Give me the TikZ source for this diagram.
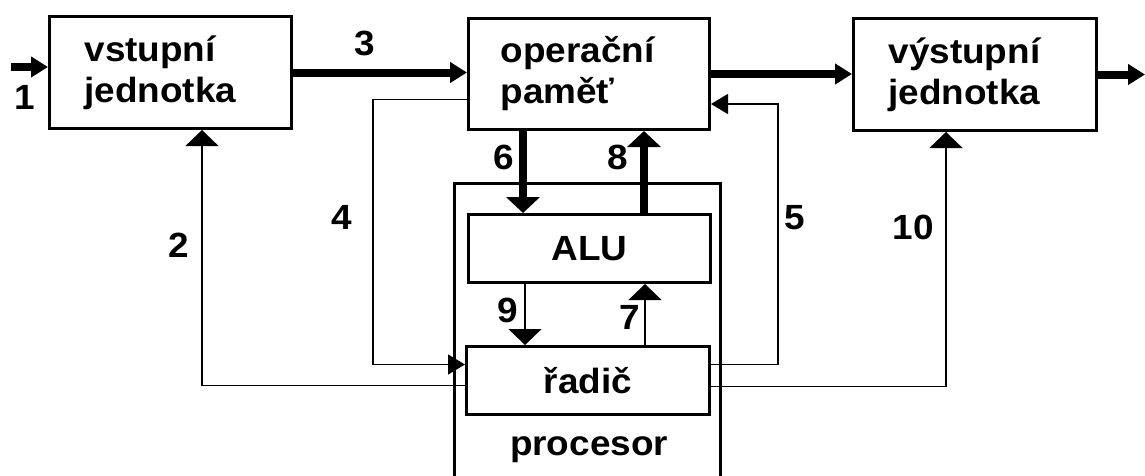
\documentclass[tikz,border=0pt]{standalone}
\usepackage{fontspec}
\setmainfont{Liberation Sans}[FakeStretch=1.055]
\usetikzlibrary{arrows.meta,calc}
\begin{document}
\begin{tikzpicture}[x=1pt,y=-1pt,
  font=\bfseries\fontsize{35}{41}\selectfont,
  blk/.style={draw, line width=3pt, anchor=north west, inner sep=0pt},
  bus/.style={line width=8pt},
  ctl/.style={line width=1.3pt},
  vtip/.tip={Triangle[width=33pt,length=16pt]},
  htip/.tip={Triangle[width=20pt,length=17pt]},
  num/.style={inner sep=0pt}]
\useasboundingbox (0,0) rectangle (1145,475);
\fill[white] (0,0) rectangle (1145,475);
% blocks
\node[blk, minimum width=242, minimum height=112, text width=172, align=left] (in) at (48,15) {vstupní\\jednotka};
\node[blk, minimum width=241, minimum height=111, text width=177, align=left] (op) at (467,17) {operační\\paměť};
\node[blk, minimum width=243, minimum height=112, text width=173, align=left] (out) at (852,17) {výstupní\\jednotka};
\node[blk, minimum width=266, minimum height=310] (proc) at (453,182) {};
\node[blk, minimum width=242, minimum height=68] (alu) at (467,213) {ALU};
\node[blk, minimum width=243, minimum height=68] (rd) at (465,345) {řadič};
\node[num] (pname) at (589,450) {procesor};
% helper coordinates
\coordinate (i1) at (11,67);
\coordinate (o1) at (1145,72);
\coordinate (c2) at (202,0);
\coordinate (c10) at (946,0);
\coordinate (c6) at (523,0);
\coordinate (c8) at (644,0);
\coordinate (c9) at (525,0);
\coordinate (c7) at (645,0);
% buses
\draw[bus,-{htip}] (i1) -- (i1 -| in.west);
\draw[bus,-{htip}] (in.east) -- (op.west |- in.east);
\draw[bus,-{htip}] (op.east) -- (out.west |- op.east);
\draw[bus,-{htip}] (out.east) -- (o1 |- out.east);
\draw[bus,-{vtip}] (op.south -| c6) -- (alu.north -| c6);
\draw[bus,-{vtip}] (alu.north -| c8) -- (op.south -| c8);
% control lines
\draw[ctl,-{vtip}] ($(rd.west)+(0,5)$) -| (in.south -| c2);
\draw[ctl,-{htip}] ($(op.west)+(0,25.5)$) -- ++(-94,0) |- ($(rd.west)+(0,-16)$);
\draw[ctl,-{htip}] ($(rd.east)+(0,-16)$) -- ++(67,0) |- ($(op.east)+(0,30)$);
\draw[ctl,-{vtip}] ($(rd.east)+(0,6)$) -| (out.south -| c10);
\draw[ctl,-{vtip}] (alu.south -| c9) -- (rd.north -| c9);
\draw[ctl,-{vtip}] (rd.north -| c7) -- (alu.south -| c7);
% labels
\node[num] (n1) at (25,97) {1};
\node[num] (n2) at (179,245) {2};
\node[num] (n3) at (365,43) {3};
\node[num] (n4) at (342,217) {4};
\node[num] (n5) at (795,218) {5};
\node[num] (n6) at (504,157) {6};
\node[num] (n8) at (618,157) {8};
\node[num] (n9) at (508,310) {9};
\node[num] (n7) at (630,317) {7};
\node[num] (n10) at (913,227) {10};
\end{tikzpicture}
\end{document}
